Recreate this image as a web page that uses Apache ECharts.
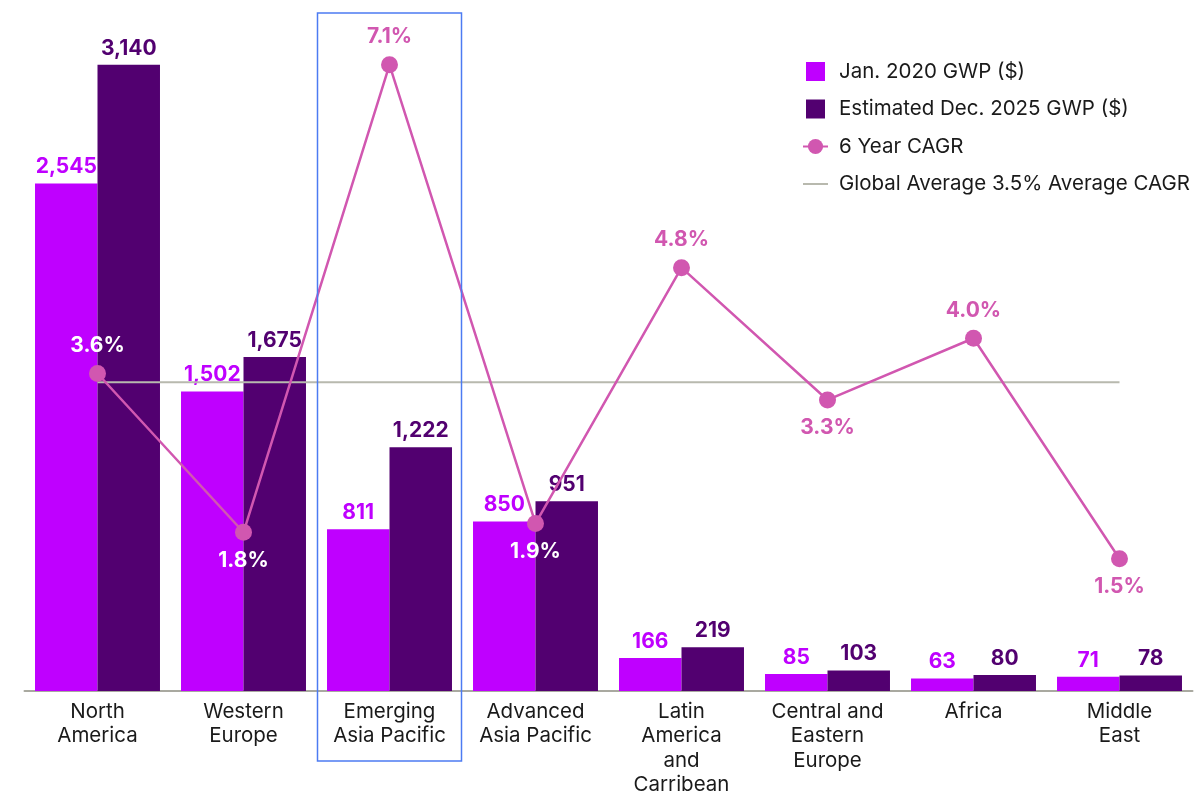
<!DOCTYPE html>
<html>
<head>
<meta charset="utf-8">
<script src="https://cdn.jsdelivr.net/npm/echarts@6/dist/echarts.min.js"></script>
<style>
html,body{margin:0;padding:0;background:#fff;}
#chart{width:1202px;height:793px;}
</style>
</head>
<body>
<div id="chart"></div>
<script>
// ---- data ----
var categories = ['North\nAmerica', 'Western\nEurope', 'Emerging\nAsia Pacific', 'Advanced\nAsia Pacific',
  'Latin\nAmerica\nand\nCarribean', 'Central and\nEastern\nEurope', 'Africa', 'Middle\nEast'];
var gwp2020 = [2545, 1502, 811, 850, 166, 85, 63, 71];
var gwp2025 = [3140, 1675, 1222, 951, 219, 103, 80, 78];
var cagr = [3.6, 1.8, 7.1, 1.9, 4.8, 3.3, 4.0, 1.5];
var globalAvg = [3.5, 3.5, 3.5, 3.5, 3.5, 3.5, 3.5, 3.5];
var highlighted = 'Emerging\nAsia Pacific';

// ---- styles ----
var C_JAN = '#BF00FF', C_DEC = '#520070', C_LINE = '#D157B0', C_AVG = '#B8B9AE';
var FONT = 'Inter, Roboto, sans-serif';
var labelPlace = ['top', 'bottom', 'top', 'bottom', 'top', 'bottom', 'top', 'bottom'];
var labelWhite = [true, true, false, true, false, false, false, false];
var barMax = 3400;
var lineMax = barMax * 7.1 / 3140;
var GRID_TOP = 13, GRID_H = 678;

var cagrData = cagr.map(function (v, i) {
  return {
    value: v,
    label: {
      position: labelPlace[i],
      color: labelWhite[i] ? '#ffffff' : C_LINE
    }
  };
});

var chart = echarts.init(document.getElementById('chart'));
var option = {
  animation: false,
  textStyle: { fontFamily: FONT },
  grid: { left: 24.5, width: 1168, top: GRID_TOP, height: GRID_H, containLabel: false, outerBoundsMode: 'none' },
  legend: {
    orient: 'vertical',
    left: 802, top: 61, padding: 0,
    itemWidth: 25, itemHeight: 19, itemGap: 16.5,
    textStyle: { fontFamily: FONT, fontSize: 20.5, color: '#1a1a1a', padding: [0, 0, 0, 6] },
    data: [
      { name: 'Jan. 2020 GWP ($)', icon: 'path://M0,0H10V10H0Z' },
      { name: 'Estimated Dec. 2025 GWP ($)', icon: 'path://M0,0H10V10H0Z' },
      { name: '6 Year CAGR' },
      { name: 'Global Average 3.5% Average CAGR', icon: 'path://M0,0H25V2H0Z' }
    ]
  },
  xAxis: {
    type: 'category',
    data: categories,
    axisTick: { show: false },
    axisLine: { lineStyle: { color: '#A9A9A0', width: 2 } },
    axisLabel: { fontFamily: FONT, fontSize: 20.5, color: '#1a1a1a', lineHeight: 24.2, margin: 9, interval: 0 }
  },
  yAxis: [
    { type: 'value', min: 0, max: barMax, show: false, splitLine: { show: false } },
    { type: 'value', min: 0, max: lineMax, show: false, splitLine: { show: false } }
  ],
  series: [
    {
      name: 'Jan. 2020 GWP ($)', type: 'bar', data: gwp2020,
      itemStyle: { color: C_JAN }, barGap: '0%', barCategoryGap: '14.4%',
      label: { show: true, position: 'top', distance: 6, color: C_JAN, fontWeight: 'bold', fontSize: 21, fontFamily: FONT,
        formatter: function (p) { return p.value.toLocaleString('en-US'); } }
    },
    {
      name: 'Estimated Dec. 2025 GWP ($)', type: 'bar', data: gwp2025,
      itemStyle: { color: C_DEC },
      label: { show: true, position: 'top', distance: 6, color: C_DEC, fontWeight: 'bold', fontSize: 21, fontFamily: FONT,
        formatter: function (p) { return p.value.toLocaleString('en-US'); } }
    },
    {
      name: 'Global Average 3.5% Average CAGR', type: 'line', yAxisIndex: 1, data: globalAvg,
      symbol: 'none', silent: true, z: 3,
      lineStyle: { color: C_AVG, width: 2 }, itemStyle: { color: C_AVG }
    },
    {
      name: '6 Year CAGR', type: 'line', yAxisIndex: 1, data: cagrData,
      symbol: 'circle', symbolSize: 17, z: 4,
      lineStyle: { color: C_LINE, width: 2.5 }, itemStyle: { color: C_LINE },
      label: { show: true, distance: 9, fontWeight: 'bold', fontSize: 21, fontFamily: FONT,
        formatter: function (p) { return p.value.toFixed(1) + '%'; } }
    }
  ]
};
chart.setOption(option);

// highlight box around one category band
var cx = chart.convertToPixel({ xAxisIndex: 0 }, highlighted);
var band = 1168 / categories.length;
chart.setOption({
  graphic: [{
    type: 'rect', z: 10, silent: true,
    shape: { x: cx - band / 2 + 1, y: GRID_TOP, width: band - 2, height: 748 },
    style: { fill: 'none', stroke: '#4C7BF2', lineWidth: 1.5 }
  }]
});
</script>
</body>
</html>
